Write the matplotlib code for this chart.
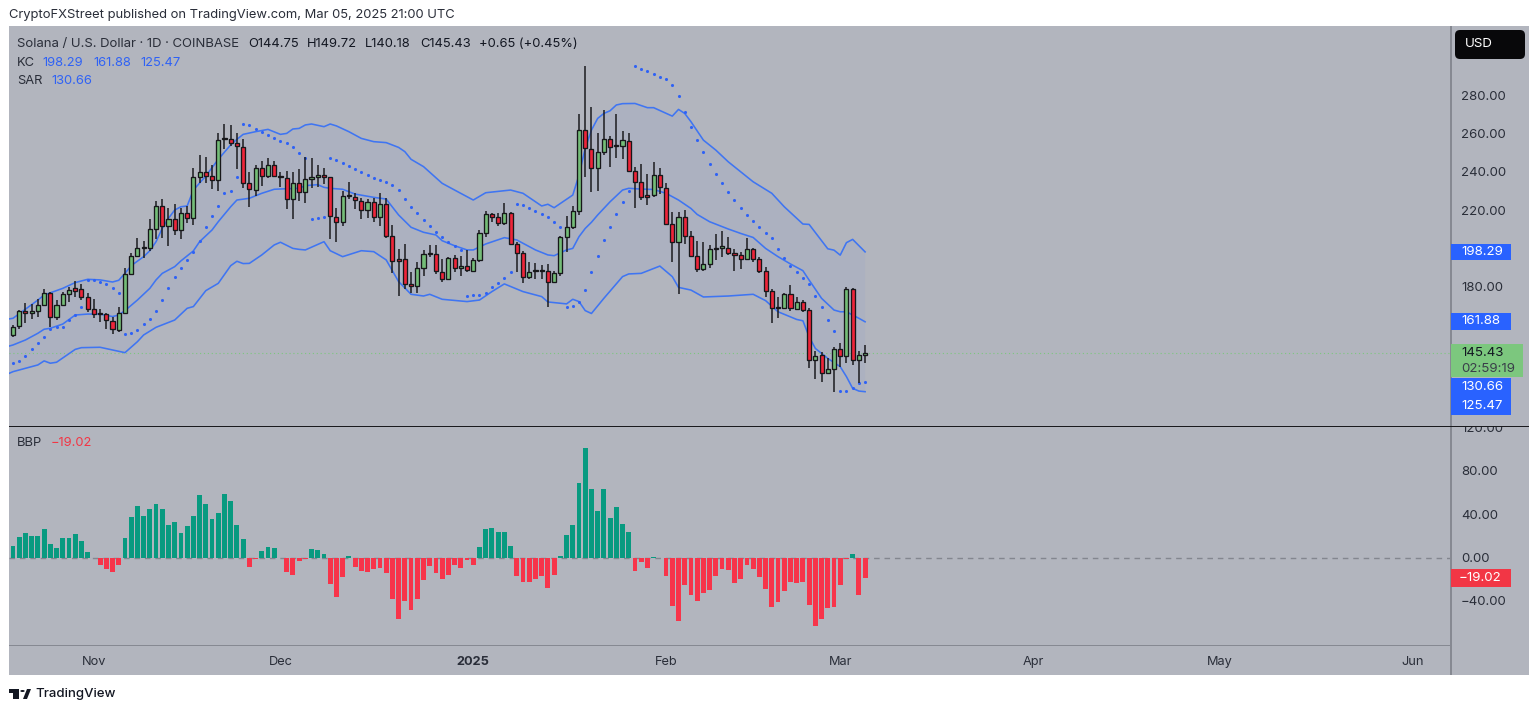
import numpy as np
import matplotlib
matplotlib.use("Agg")
import matplotlib.pyplot as plt
from matplotlib.patches import Rectangle, FancyBboxPatch, Circle, Polygon
from matplotlib.transforms import IdentityTransform

plt.rcParams['font.family'] = ['Inter', 'DejaVu Sans']

# Day numbers count from 18 Oct 2024 (day 0); candles run from 19 Oct 2024 to 5 Mar 2025
opens = [154.8,159.7,167.5,166.3,167.3,170.8,177.1,164.6,170.8,176.6,
179.3,179.1,174.6,168.4,166.3,166.1,162.5,157.6,166.6,186.8,
196.3,200.3,200.1,210.0,222.2,212.0,215.4,209.7,218.6,215.9,
237.5,240.1,238.0,235.9,256.9,257.3,255.0,253.1,234.0,230.7,
242.2,237.6,243.4,237.6,236.8,225.8,234.0,229.7,236.1,237.3,
238.3,237.1,216.5,213.9,227.4,226.7,224.8,219.9,224.3,216.5,
223.1,206.4,194.4,194.4,181.4,180.5,189.7,197.0,197.2,188.0,
184.0,195.3,189.7,190.9,188.5,193.9,208.1,217.9,216.6,213.2,
218.4,202.2,197.5,185.0,188.3,188.3,188.3,182.8,187.5,205.9,
211.1,219.8,261.9,252.0,241.8,250.3,257.2,253.2,253.4,256.2,
240.2,234.8,227.9,228.1,238.1,231.7,213.0,203.6,216.3,206.5,
196.0,189.5,192.1,200.3,200.5,200.5,197.9,196.6,194.4,199.6,
194.4,188.3,177.7,169.2,169.2,176.2,168.7,172.2,167.8,141.8,
144.4,135.2,137.4,147.9,143.9,178.8,142.1,144.75]
closes = [159.4,167.5,166.3,167.5,170.6,177.1,164.6,170.6,176.4,178.3,
178.1,175.0,168.7,165.9,165.9,162.6,158.0,166.6,186.6,196.3,
200.1,200.7,210.0,222.2,212.0,215.4,209.7,218.6,215.8,237.3,
240.1,238.0,235.9,256.4,257.3,255.2,253.3,234.3,230.9,242.2,
237.8,243.4,237.8,237.1,225.8,234.0,229.7,236.1,237.1,238.3,
237.1,216.8,213.9,227.4,227.9,225.1,219.9,224.3,216.5,223.2,
206.6,193.7,193.7,181.6,180.5,189.7,197.0,197.5,188.2,184.0,
195.3,189.7,190.9,188.7,194.1,208.0,218.0,216.6,213.2,218.4,
202.2,197.7,185.0,187.6,188.7,188.7,182.8,187.5,205.9,211.1,
219.4,261.9,252.4,241.8,250.1,257.2,253.1,253.6,256.4,240.4,
234.8,227.0,227.0,238.1,231.9,213.0,203.6,216.3,206.7,196.0,
189.5,192.1,199.6,199.6,200.8,197.9,196.8,194.4,199.6,194.4,
188.5,177.7,169.2,169.7,176.2,168.9,172.2,168.0,141.8,144.2,
135.4,137.3,147.9,143.9,178.8,142.1,144.78,145.43]
highs = [160.2,168.0,171.5,171.2,173.8,179.0,177.6,173.2,177.6,180.2,
183.3,181.6,176.7,173.9,168.4,166.6,164.6,169.4,189.7,197.5,
205.4,204.1,215.4,225.0,225.7,221.0,223.1,221.0,222.2,242.2,
248.8,247.9,243.6,260.0,264.7,264.4,260.0,256.9,240.1,243.6,
245.6,247.0,245.6,240.1,240.6,240.1,241.3,247.5,247.4,243.6,
241.8,237.5,221.3,230.2,234.9,228.8,226.2,225.7,226.5,229.1,
226.2,212.3,199.6,202.2,188.0,193.2,199.3,201.9,201.9,194.4,
195.8,196.7,196.3,199.3,194.9,209.7,219.8,218.4,218.4,223.6,
219.2,203.6,198.9,193.2,192.3,191.5,192.0,188.5,206.6,217.0,
222.2,270.1,295.1,273.5,260.4,272.2,258.6,270.1,261.2,260.0,
242.6,244.0,238.7,244.9,241.8,234.0,218.9,218.9,220.1,209.1,
204.1,203.6,201.9,207.6,209.1,206.2,199.6,198.4,205.3,200.5,
195.8,190.2,178.8,174.6,176.7,181.0,174.6,173.2,168.9,146.8,
146.3,142.8,148.6,151.0,180.2,179.3,146.8,149.72]
lows = [154.1,158.0,161.4,163.2,164.2,170.1,159.3,162.8,170.1,172.4,
175.0,173.2,167.2,163.7,162.0,158.0,155.4,156.7,166.3,186.3,
196.2,195.3,198.9,204.8,205.4,201.4,207.1,204.8,213.5,212.3,
234.3,234.0,230.9,230.2,251.7,253.4,241.5,231.4,221.5,227.4,
232.8,236.9,237.1,231.9,220.5,215.3,225.0,223.6,231.4,231.9,
233.7,205.0,203.6,211.8,225.7,220.6,215.3,215.8,213.7,211.8,
205.4,187.1,175.3,178.8,177.1,176.7,185.9,195.5,186.8,182.8,
183.7,188.0,185.7,188.0,188.0,193.2,205.9,214.0,211.8,212.3,
201.9,188.0,182.3,184.0,184.0,184.0,169.8,182.3,185.9,198.4,
210.0,217.5,237.4,229.3,230.1,248.7,242.3,247.3,246.5,240.0,
221.3,225.3,222.7,227.0,228.2,212.8,193.2,176.2,202.4,195.4,
187.8,188.1,190.0,194.0,195.4,196.6,188.5,189.2,194.0,193.2,
187.1,175.0,161.1,163.7,168.3,167.7,168.0,166.8,138.0,131.9,
130.5,134.7,125.5,138.5,140.2,139.4,130.2,140.18]

kc_upper_days = [0,1,5,6,9,11,13,15,17,18,19,20,22,23,24,25,26,27,28,29,30,32,34,36,37,38,40,42,44,45,46,47,
48,49,51,52,53,55,57,59,61,63,64,65,67,69,70,72,75,77,81,83,86,87,88,91,92,93,94,95,96,97,98,99,101,103,104,
107,108,109,110,112,114,116,118,120,123,125,128,129,132,133,134,135,136,138]
kc_upper = [163.2,163.7,173.2,175.8,179.3,182.3,184.0,183.7,182.6,183.5,187.1,191.1,195.8,198.9,203.6,210.6,215.8,220.1,221.8,222.2,230.5,237.8,246.5,254.0,256.9,259.5,260.9,262.1,259.5,260.0,262.3,262.6,
264.4,264.9,263.5,264.9,263.9,260.9,257.4,255.7,255.2,252.7,250.5,246.5,242.7,236.9,234.0,230.5,225.3,229.1,230.5,228.8,222.2,223.1,221.3,227.9,238.3,252.2,261.7,267.8,270.4,271.8,274.8,275.5,275.6,273.4,273.4,
269.0,272.5,270.4,266.1,256.5,251.3,245.2,240.0,234.8,228.8,221.8,212.8,212.6,199.9,199.2,196.6,203.1,204.8,198.29]

kc_mid_days = [0,1,3,5,6,7,9,11,13,15,17,18,19,21,23,24,25,27,28,30,31,33,34,36,37,39,41,43,45,47,
48,50,51,52,54,56,59,61,63,65,67,69,70,72,74,75,77,80,82,85,87,88,90,91,92,93,94,95,97,99,100,102,104,106,108,
110,111,113,116,118,120,122,124,126,128,129,131,133,134,135,137,138]
kc_mid = [148.9,149.8,152.4,155.9,158.0,158.5,160.7,165.4,165.9,165.9,164.6,165.4,167.7,173.2,179.3,183.7,187.1,190.6,193.6,198.8,203.6,209.7,214.0,221.8,225.3,226.2,228.8,230.9,231.2,231.4,
232.8,233.3,231.9,231.4,230.9,228.4,226.7,225.8,217.5,211.1,208.5,207.1,204.1,201.5,199.3,199.3,202.4,205.7,204.5,199.3,196.7,196.3,199.3,200.1,206.2,210.5,213.7,217.5,224.4,230.5,231.4,231.0,230.8,228.8,225.3,
220.9,217.8,214.0,210.2,207.9,205.8,200.1,195.8,192.0,188.5,183.6,174.1,168.0,167.1,167.1,163.7,161.88]

kc_lower_days = [0,1,5,6,7,8,11,12,15,17,19,21,22,24,27,29,30,32,34,36,37,38,39,41,43,44,46,47,
48,51,52,54,57,59,61,63,65,67,68,70,74,76,78,80,83,86,87,90,91,92,93,94,96,99,100,102,105,107,108,110,112,116,120,122,124,127,128,129,130,132,134,135,136,137,138]
kc_lower = [134.5,135.9,139.4,141.5,140.3,140.8,147.5,148.4,148.6,147.2,145.8,151.5,155.0,159.0,162.8,168.9,169.8,178.1,181.9,191.1,193.4,192.2,192.3,196.7,201.9,203.3,200.1,199.6,
199.3,203.6,198.9,195.8,198.9,198.4,194.1,182.8,176.2,175.3,176.2,173.6,172.4,173.2,177.6,181.6,177.6,175.0,172.2,171.2,173.6,172.4,167.7,166.2,174.1,185.4,186.8,187.1,190.9,185.4,179.8,178.4,174.8,175.3,176.2,172.9,167.1,163.1,162.4,154.1,148.0,142.8,138.5,133.3,127.2,125.8,125.47]

sar = [140.3,141.6,144.2,147.7,150.7,154.0,158.0,159.3,159.3,162.8,165.4,169.4,
183.5,183.5,182.4,181.4,179.3,177.1,
155.4,155.9,157.6,160.7,163.3,167.5,173.2,179.3,185.0,189.7,194.1,198.4,204.0,211.3,217.2,222.2,229.0,230.2,237.1,
264.9,264.2,262.3,260.7,259.2,257.8,256.2,254.8,253.1,250.0,247.0,
215.3,216.1,216.6,
247.4,246.2,244.8,243.0,241.5,240.1,238.3,237.0,235.7,234.5,233.3,230.5,225.8,221.8,218.4,214.9,211.8,208.8,206.2,203.6,201.4,199.3,
175.3,175.7,176.0,177.0,179.8,182.3,184.7,187.8,
223.4,222.7,221.0,219.6,218.0,216.3,213.7,211.1,
169.4,170.3,172.3,178.4,187.8,196.3,204.3,211.4,218.2,224.2,230.0,
295.2,293.7,292.3,290.9,289.5,288.1,285.2,279.4,271.3,263.5,256.5,250.1,244.0,238.7,234.0,229.3,225.1,221.1,217.5,214.2,211.1,208.3,205.3,199.8,195.1,191.1,187.6,184.5,181.4,175.3,169.7,162.8,156.9,
125.6,125.6,127.5,130.2,130.66]

# BBP from day 0 to day 138
bbp = [7.1,11.1,18.8,22.5,20,20,26.5,12.3,8.9,18.2,18.2,22.2,15.1,4.9,-0.5,-6.8,-10.8,-13.2,-6.8,18.2,
37.9,47.4,38.2,45.3,49.9,44.7,29.9,33.3,23.1,29.3,38.2,57.6,49.6,35.7,41.3,58.5,52.1,30.2,16.9,-8.6,
-0.9,6.2,9.5,8.6,-0.6,-13.2,-16.3,-3.1,-1.2,8,7.1,3.4,-24,-36.7,-17.6,1.2,-8.9,-12.6,-13.2,-10.8,
-9.9,-14.5,-38.2,-56.4,-40.3,-48,-38.2,-20.9,-7.7,-14.2,-19.4,-15.7,-6.8,-9.5,-2.2,-6.5,10.2,26.2,27.7,23.4,
23.4,11.1,-17.2,-22.2,-22.8,-20,-17.2,-28.3,-15.7,1.2,20.6,30.5,68.7,101.3,63.8,42.8,63.4,36.7,47.1,31.1,
23.4,-12.6,-4,-9.5,0.3,-0.2,-17.2,-44.4,-58.2,-24.9,-34.8,-39.7,-32.3,-29.9,-16.6,-10.2,-11.7,-23.1,-19.7,-6.5,
-10.5,-17.9,-28.6,-45.9,-41,-30.8,-22.2,-23.4,-22.2,-43.4,-63.1,-56.7,-46.5,-45.9,-25.6,-0.9,3.1,-34.8,-19.02]

month_days = [14, 44, 75, 106, 134, 165, 195, 226]
month_labels = ['Nov', 'Dec', '2025', 'Feb', 'Mar', 'Apr', 'May', 'Jun']
price_ticks = [180, 220, 240, 260, 280]
bbp_ticks = [120, 80, 40, 0, -40]

WIDTH, HEIGHT = 1536, 706
fig = plt.figure(figsize=(WIDTH / 100, HEIGHT / 100), dpi=100, facecolor='white')

def fx(x): return x / WIDTH
def fy(y): return 1 - y / HEIGHT

def axes_px(x0, y0, x1, y1):
    return fig.add_axes([fx(x0), fy(y1), (x1 - x0) / WIDTH, (y1 - y0) / HEIGHT])

def box(x0, y0, x1, y1, color, z=3):
    fig.add_artist(Rectangle((fx(x0), fy(y1)), (x1 - x0) / WIDTH, (y1 - y0) / HEIGHT,
                             transform=fig.transFigure, facecolor=color, edgecolor='none', zorder=z))

def label(x, y, s, color='#131722', size=9.6, weight='normal', ha='left'):
    fig.text(fx(x), fy(y + 0.8), s, color=color, fontsize=size, fontweight=weight, ha=ha, va='center', zorder=6)

BG = '#b2b5be'
BLUE = '#3f75f2'
box(9, 26, 1529, 675, BG, z=-2)

ax1 = axes_px(9, 26, 1451, 426)
ax2 = axes_px(9, 427, 1451, 645)
xlim = (0.357, 232.2)
for ax in (ax1, ax2):
    ax.patch.set_visible(False)
    ax.set_xlim(*xlim)
    for s in ax.spines.values():
        s.set_visible(False)
ax1.set_ylim(107.6, 315.94)
ax2.set_ylim(-80.7, 120.6)

days = np.arange(1, 139)
o, h, l, c = map(np.array, (opens, highs, lows, closes))

# Keltner channel band and lines
band_x = np.r_[kc_upper_days, kc_lower_days[::-1]]
band_y = np.r_[kc_upper, kc_lower[::-1]]
ax1.fill(band_x, band_y, color='#2962ff', alpha=0.04, lw=0, zorder=1)
ax1.plot(kc_upper_days, kc_upper, color=BLUE, lw=1.15, zorder=2)
ax1.plot(kc_mid_days, kc_mid, color=BLUE, lw=1.15, zorder=2)
ax1.plot(kc_lower_days, kc_lower, color=BLUE, lw=1.15, zorder=2)

# Last-price dotted line
ax1.axhline(closes[-1], color='#7cc77e', lw=0.8, ls=(0, (1, 2.5)), zorder=1)

# SAR
ax1.scatter(days, sar, s=5, color='#2f62f5', lw=0, zorder=3)

# Candles
up = c >= o
ax1.vlines(days, l, h, color='#1c1c20', lw=1.3, alpha=0.85, zorder=4)
bottom = np.minimum(o, c)
height = np.maximum(np.abs(c - o), 0.6)
ax1.bar(days, height, bottom=bottom, width=0.66,
        color=np.where(up, '#74bd78', '#ee2539'), edgecolor='#17171a', lw=0.95, zorder=5)

# BBP
bbp_days = np.arange(0, 139)
bbp_arr = np.array(bbp)
ax2.axhline(0, color='#83868f', lw=1, ls=(0, (4, 3.5)), zorder=1)
ax2.bar(bbp_days, bbp_arr, width=0.78, color=np.where(bbp_arr >= 0, '#089a80', '#f7344a'), lw=0, zorder=2)

# Axes ticks
ax1.yaxis.tick_right()
ax1.set_yticks(price_ticks, [f'{v:.2f}' for v in price_ticks])
ax1.set_xticks([])
ax2.yaxis.tick_right()
ax2.set_yticks(bbp_ticks, [f'{v:.2f}'.replace('-', '\u2212') for v in bbp_ticks])
ax2.set_xticks(month_days, month_labels)
for ax in (ax1, ax2):
    ax.tick_params(axis='y', length=0, pad=7.2, labelsize=9.5, labelcolor='#2a2e39')
ax2.tick_params(axis='x', length=0, pad=8.0, labelsize=9.2, labelcolor='#2a2e39')
ax2.get_xticklabels()[2].set_fontweight('bold')

# Frame lines
box(1450.4, 26, 1451.6, 675, '#868992', z=2)
box(9, 644.5, 1451, 645.6, '#868992', z=2)
box(1452, 408, 1529, 426, BG, z=2.5)
box(9, 425.5, 1529, 426.7, '#1a1a1e', z=2.6)

# Header and legend
label(9, 14, 'CryptoFXStreet published on TradingView.com, Mar 05, 2025 21:00 UTC', size=9.35, color='#2a2e39')
label(17, 43, 'Solana / U.S. Dollar \u00b7 1D \u00b7 COINBASE', size=9.45, color='#2a2e39')
for x, s in [(248, f'O{opens[-1]:.2f}'), (307, f'H{highs[-1]:.2f}'), (365, f'L{lows[-1]:.2f}'),
             (420, f'C{closes[-1]:.2f}'), (479, '+0.65 (+0.45%)')]:
    label(x, 43, s, size=9.3)
label(17, 62, 'KC', size=9.3, color='#2a2e39')
for x, v in [(42, kc_upper[-1]), (93, kc_mid[-1]), (140, kc_lower[-1])]:
    label(x, 62, f'{v:.2f}', size=9.3, color='#2f62f5')
label(17, 80, 'SAR', size=9.3, color='#2a2e39')
label(51, 80, f'{sar[-1]:.2f}', size=9.3, color='#2f62f5')
label(17, 442, 'BBP', size=9.3, color='#2a2e39')
label(51, 442, f'\u2212{abs(bbp[-1]):.2f}', size=9.3, color='#f23645')

# Currency button, rounded in pixels
fig.add_artist(FancyBboxPatch((1455, HEIGHT - 59), 70, 29,
                              boxstyle='round,pad=0,rounding_size=5', transform=IdentityTransform(),
                              facecolor='#08080a', edgecolor='none', zorder=3))
label(1465, 43.5, 'USD', color='white', size=9.6)

# Price labels
box(1451, 244, 1511, 260, '#2962ff')
label(1461, 251.5, f'{kc_upper[-1]:.2f}', color='white')
box(1451, 313, 1511, 330, '#2962ff')
label(1461, 320.5, f'{kc_mid[-1]:.2f}', color='white')
box(1451, 344, 1523, 377, '#7cc77e')
label(1461, 352.5, f'{closes[-1]:.2f}')
label(1461, 368, '02:59:19', color='#3a3f4a')
box(1451, 378, 1511, 415, '#2962ff')
label(1461, 386.5, f'{sar[-1]:.2f}', color='white')
label(1461, 405, f'{kc_lower[-1]:.2f}', color='white')
box(1451, 569, 1511, 587, '#f23645')
label(1459, 577.5, f'\u2212{abs(bbp[-1]):.2f}', color='white')

# TradingView mark
box(9, 689, 19, 692.5, '#131722', z=5)
box(12.5, 689, 19, 699, '#131722', z=5)
fig.add_artist(Polygon([(fx(23), fy(699)), (fx(27), fy(689)), (fx(31), fy(689)), (fx(27), fy(699))],
                       closed=True, transform=fig.transFigure, facecolor='#131722', edgecolor='none', zorder=5))
fig.add_artist(Circle((fx(22.5), fy(691)), 2.2 / WIDTH, transform=fig.transFigure,
                      facecolor='#131722', edgecolor='none', zorder=5))
label(35, 693.5, 'TradingView', size=9.5, weight='medium', color='#131722')

fig.savefig('out.png', dpi=100)
